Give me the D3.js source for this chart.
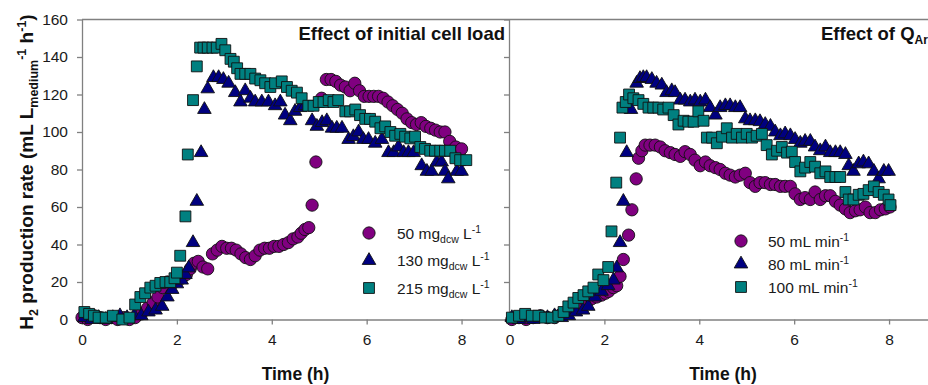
<!DOCTYPE html>
<html><head><meta charset="utf-8">
<script src="https://cdn.jsdelivr.net/npm/d3@7"></script>
<style>
body{margin:0;background:#fff}
svg{display:block}
text{font-family:"Liberation Sans",Arial,Helvetica,sans-serif}
</style>
</head><body>
<svg id="c" width="928" height="385"></svg>
<script>
// ---------- DATA ----------
const xTicks = [0, 2, 4, 6, 8];
const yTicks = [0, 20, 40, 60, 80, 100, 120, 140, 160];

// Left panel: effect of initial cell load  [time (h), H2 rate]
const cell50 = [[0.00,1],[0.12,0],[0.25,2],[0.38,1],[0.5,0],[0.62,1],[0.75,0],[0.88,1],[1.0,0],[1.12,1],[1.25,3],[1.38,6],[1.5,9],[1.6,12],[1.7,17],[1.8,20],[1.9,19],[2.0,21],[2.1,22],[2.2,24],[2.28,27],[2.36,30],[2.45,31],[2.55,28],[2.65,27],[2.75,35],[2.85,37],[2.95,39],[3.05,38],[3.15,38],[3.25,37],[3.35,35],[3.45,33],[3.55,32],[3.65,34],[3.75,37],[3.85,38],[3.95,38],[4.05,39],[4.15,39],[4.25,40],[4.35,41],[4.45,43],[4.55,44],[4.62,46],[4.7,48],[4.78,49],[4.85,61],[4.93,84],[5.05,118],[5.15,128],[5.25,128],[5.35,127],[5.45,125],[5.55,124],[5.65,122],[5.75,126],[5.85,122],[5.95,119],[6.05,119],[6.15,119],[6.25,119],[6.35,118],[6.45,116],[6.55,114],[6.65,112],[6.75,110],[6.85,107],[6.95,105],[7.05,104],[7.15,105],[7.25,103],[7.35,102],[7.45,101],[7.55,100],[7.65,100],[7.75,95],[7.88,92],[8.0,91]];
const cell130 = [[0.05,1],[0.2,0],[0.35,1],[0.5,0],[0.65,1],[0.8,2],[0.95,1],[1.1,2],[1.25,2],[1.4,4],[1.55,5],[1.69,7],[1.8,12],[1.9,16],[2.0,19],[2.1,21],[2.18,24],[2.25,27.5],[2.34,41],[2.42,63],[2.51,89],[2.58,112],[2.65,123],[2.77,129],[2.88,129],[2.98,128],[3.09,126],[3.23,121],[3.34,116],[3.44,122],[3.55,118],[3.65,116],[3.79,116],[3.93,116],[4.07,114],[4.18,116],[4.28,109],[4.39,106],[4.49,111],[4.6,113],[4.7,114],[4.85,106],[4.95,103],[5.06,105],[5.16,106],[5.27,102],[5.37,102],[5.48,102],[5.62,96],[5.72,97.5],[5.83,100],[5.93,96],[6.04,96],[6.18,94],[6.32,96],[6.46,89],[6.57,89],[6.67,92],[6.78,89],[6.88,89],[6.99,89],[7.16,82],[7.27,79],[7.37,79],[7.48,84],[7.58,84],[7.65,79],[7.72,75],[7.9,79],[8.0,79]];
const cell215 = [[0.05,4],[0.15,3],[0.25,2],[0.35,1],[0.5,1],[0.65,2],[0.85,0],[1.0,1],[1.12,8],[1.23,12],[1.33,14],[1.44,17],[1.55,18],[1.65,19.5],[1.76,20],[1.86,20],[1.95,22],[2.0,25],[2.07,34],[2.18,55],[2.23,88],[2.34,117],[2.42,135],[2.49,145],[2.56,145],[2.65,145],[2.75,145],[2.84,145],[2.94,147],[3.02,143.6],[3.13,139],[3.2,137.5],[3.27,134],[3.34,131],[3.44,131],[3.55,131],[3.65,128.5],[3.76,127.6],[3.86,126],[3.97,124],[4.07,126],[4.21,127],[4.32,124],[4.42,122],[4.53,121],[4.63,118],[4.77,114],[4.88,114],[4.99,116],[5.09,116],[5.2,117],[5.3,116],[5.4,117],[5.55,111],[5.65,111],[5.76,112],[5.86,109],[5.97,107],[6.07,107],[6.18,105.5],[6.29,102],[6.39,103],[6.5,100],[6.6,98],[6.71,99],[6.81,97.5],[6.92,96.6],[7.02,97.5],[7.13,92],[7.23,91],[7.34,90],[7.44,90],[7.55,90],[7.65,90],[7.76,90],[7.87,86],[7.97,85],[8.1,85]];

// Right panel: effect of Q_Ar
const flow50 = [[0.05,0],[0.2,1],[0.35,0],[0.5,1],[0.65,2],[0.8,1],[0.95,1],[1.1,3],[1.2,4],[1.31,5],[1.42,6],[1.52,7],[1.63,9],[1.73,11],[1.84,12],[1.94,13],[2.02,14],[2.09,15],[2.19,17],[2.26,18],[2.33,23],[2.4,32],[2.51,45],[2.58,58.5],[2.67,75],[2.72,86],[2.79,90],[2.86,93],[2.96,93],[3.07,93],[3.18,92],[3.28,90],[3.39,89],[3.49,88],[3.6,87],[3.7,89.5],[3.81,88],[3.91,85],[4.02,82],[4.13,84],[4.23,82],[4.34,81],[4.44,80],[4.55,78],[4.65,77],[4.76,76],[4.86,77],[4.97,78],[5.07,73],[5.18,71],[5.28,73],[5.39,73],[5.5,72],[5.6,72],[5.71,71],[5.81,71],[5.92,71],[6.02,67],[6.13,64],[6.23,65],[6.34,64],[6.44,68],[6.55,64],[6.66,66],[6.76,66],[6.87,63],[6.97,61],[7.08,59],[7.18,57],[7.29,58],[7.39,58.5],[7.5,60],[7.6,57],[7.71,57],[7.82,58.5],[7.92,59],[8.02,60]];
const flow80 = [[0.05,1],[0.2,0],[0.35,1],[0.5,0],[0.65,1],[0.8,1],[0.95,2],[1.1,1],[1.25,2],[1.4,4],[1.55,5],[1.66,7],[1.8,12],[1.94,15],[2.08,18],[2.19,21],[2.26,27.5],[2.33,41],[2.4,63],[2.47,89],[2.56,112],[2.68,126],[2.75,128.5],[2.82,129],[2.89,129],[3.0,128],[3.1,126],[3.21,125],[3.31,121],[3.42,122],[3.49,121],[3.6,117],[3.7,117],[3.81,116],[3.91,117],[4.02,116],[4.13,117],[4.23,113],[4.34,109],[4.44,113],[4.55,114],[4.65,114],[4.76,113],[4.86,113],[4.97,107],[5.07,106],[5.18,106],[5.28,105.5],[5.39,104],[5.5,103],[5.6,100],[5.71,98],[5.81,99],[5.92,98],[6.02,96],[6.13,94],[6.23,95],[6.34,95],[6.44,92],[6.55,90],[6.66,92],[6.76,89],[6.87,89],[6.97,89],[7.08,88],[7.15,82],[7.25,79],[7.36,83],[7.46,84],[7.57,83],[7.68,79],[7.78,75],[7.89,79],[7.99,79]];
const flow100 = [[0.05,1],[0.2,2],[0.33,3],[0.47,2],[0.61,2],[0.75,1],[0.89,1],[1.03,2],[1.14,4],[1.24,7],[1.35,9],[1.45,11.5],[1.56,13],[1.66,15],[1.77,17],[1.87,24],[1.98,21],[2.08,28],[2.15,47],[2.25,73],[2.33,97],[2.38,113],[2.45,116],[2.52,120],[2.61,118],[2.72,117],[2.82,115],[2.93,113],[3.03,113],[3.14,113],[3.24,112],[3.35,113],[3.46,109],[3.56,104],[3.67,106],[3.77,105.5],[3.88,105.5],[3.98,111],[4.09,106],[4.16,97],[4.27,97],[4.37,94],[4.48,97.5],[4.58,102],[4.69,97],[4.79,99],[4.9,97],[5.0,99],[5.11,97],[5.21,98],[5.32,99],[5.42,93],[5.53,88],[5.64,90],[5.74,92],[5.85,89],[5.95,89.5],[6.02,84],[6.13,79],[6.23,81],[6.34,84],[6.44,81.5],[6.55,78],[6.66,79],[6.76,76],[6.87,76],[6.97,76],[7.08,68],[7.15,64],[7.25,64],[7.36,66.5],[7.46,67],[7.57,69],[7.68,71],[7.78,68],[7.89,66.5],[7.99,64],[8.03,61]];

const leftLabels = ["50", "130", "215"];
const rightLabels = ["50", "80", "100"];
const colors = ["#800080", "#000080", "#008080"];

// ---------- DRAW ----------
const svg = d3.select("#c");
const AX = "#808080";
const y = d3.scaleLinear().domain([0, 160]).range([319.5, 19.5]);
const xL = d3.scaleLinear().domain([0, 9]).range([82, 509]);
const xR = d3.scaleLinear().domain([0, 9]).range([509.5, 936.5]);

const symTypes = [d3.symbolCircle, d3.symbolTriangle, d3.symbolSquare];
const symSizes = [118, 80, 118];
const sym = i => d3.symbol().type(symTypes[i]).size(symSizes[i])();

function styleAxis(g){
  g.selectAll("path.domain").attr("stroke", AX).attr("stroke-width", 1.3);
  g.selectAll(".tick line").attr("stroke", AX).attr("stroke-width", 1.3);
  g.selectAll(".tick text").attr("fill", "#1a1a1a").style("font-size", "15.5px")
    .style("font-family", '"Liberation Sans",Arial,sans-serif');
}

// frame top line
svg.append("line").attr("x1", xL(0)).attr("x2", 928).attr("y1", y(160)).attr("y2", y(160))
  .attr("stroke", AX).attr("stroke-width", 1.3);

// left y axis
svg.append("g").attr("transform", `translate(${xL(0)},0)`)
  .call(d3.axisLeft(y).tickValues(yTicks).tickSize(5).tickSizeOuter(0).tickPadding(9))
  .call(styleAxis);
// right y axis (no labels)
svg.append("g").attr("transform", `translate(${xR(0)-0.5},0)`)
  .call(d3.axisLeft(y).tickValues(yTicks).tickSize(5).tickSizeOuter(0).tickFormat(""))
  .call(styleAxis);
// x axes
svg.append("g").attr("transform", `translate(0,${y(0)})`)
  .call(d3.axisBottom(xL).tickValues(xTicks).tickSize(5).tickSizeOuter(0).tickPadding(9))
  .call(styleAxis);
svg.append("g").attr("transform", `translate(0,${y(0)})`)
  .call(d3.axisBottom(xR).tickValues(xTicks).tickSize(5).tickSizeOuter(0).tickPadding(9))
  .call(styleAxis);

function drawSeries(data, x, i){
  svg.append("g").selectAll("path").data(data).join("path")
    .attr("d", sym(i))
    .attr("transform", d => `translate(${x(d[0])},${y(d[1])})`)
    .attr("fill", colors[i]).attr("stroke", "#111").attr("stroke-width", 0.9);
}
[cell50, cell130, cell215].forEach((d, i) => drawSeries(d, xL, i));
[flow50, flow80, flow100].forEach((d, i) => drawSeries(d, xR, i));

// rich text helper
function rich(sel, parts, size, subSize){
  let shift = 0;
  parts.forEach(p => {
    const ts = sel.append("tspan").text(p.t);
    let target = p.sub ? size * 0.27 : (p.sup ? -size * 0.38 : 0);
    ts.attr("dy", target - shift);
    shift = target;
    ts.style("font-size", (p.sub || p.sup) ? subSize + "px" : size + "px");
  });
}

// legends
const legL = [ {x:369, y:233}, {x:369, y:260.5}, {x:369, y:288} ];
leftLabels.forEach((lab, i) => {
  svg.append("path").attr("d", sym(i)).attr("transform", `translate(${legL[i].x},${legL[i].y})`)
    .attr("fill", colors[i]).attr("stroke", "#111").attr("stroke-width", 0.9);
  const t = svg.append("text").attr("x", 397).attr("y", legL[i].y + 5.5).attr("fill", "#1a1a1a");
  rich(t, [{t: lab + " mg"}, {t: "dcw", sub: true}, {t: " L"}, {t: "-1", sup: true}], 15.5, 10.5);
});
const legR = [ {x:741, y:241}, {x:741, y:264}, {x:741, y:287} ];
rightLabels.forEach((lab, i) => {
  svg.append("path").attr("d", sym(i)).attr("transform", `translate(${legR[i].x},${legR[i].y})`)
    .attr("fill", colors[i]).attr("stroke", "#111").attr("stroke-width", 0.9);
  const t = svg.append("text").attr("x", 768).attr("y", legR[i].y + 5.5).attr("fill", "#1a1a1a");
  rich(t, [{t: lab + " mL min"}, {t: "-1", sup: true}], 15.5, 10.5);
});

// panel titles
svg.append("text").attr("x", 505).attr("y", 39.5).attr("text-anchor", "end")
  .style("font-weight", "bold").style("font-size", "18.5px").attr("fill", "#111")
  .text("Effect of initial cell load");
const tq = svg.append("text").attr("x", 821).attr("y", 39.5)
  .style("font-weight", "bold").attr("fill", "#111");
rich(tq, [{t: "Effect of Q"}, {t: "Ar", sub: true}], 18.5, 12);

// x axis titles
[xL, xR].forEach(x => {
  svg.append("text").attr("x", (x(0) + x(9)) / 2).attr("y", 380).attr("text-anchor", "middle")
    .style("font-weight", "bold").style("font-size", "17.5px").attr("fill", "#111").text("Time (h)");
});

// y axis title
const yt = svg.append("text").attr("transform", "translate(33,172) rotate(-90)")
  .attr("text-anchor", "middle").style("font-weight", "bold").attr("fill", "#111");
rich(yt, [{t: "H"}, {t: "2", sub: true}, {t: " production rate (mL L"}, {t: "medium", sub: true},
  {t: "-1", sup: true}, {t: " h"}, {t: "-1", sup: true}, {t: ")"}], 19, 12.5);
</script>
</body></html>
